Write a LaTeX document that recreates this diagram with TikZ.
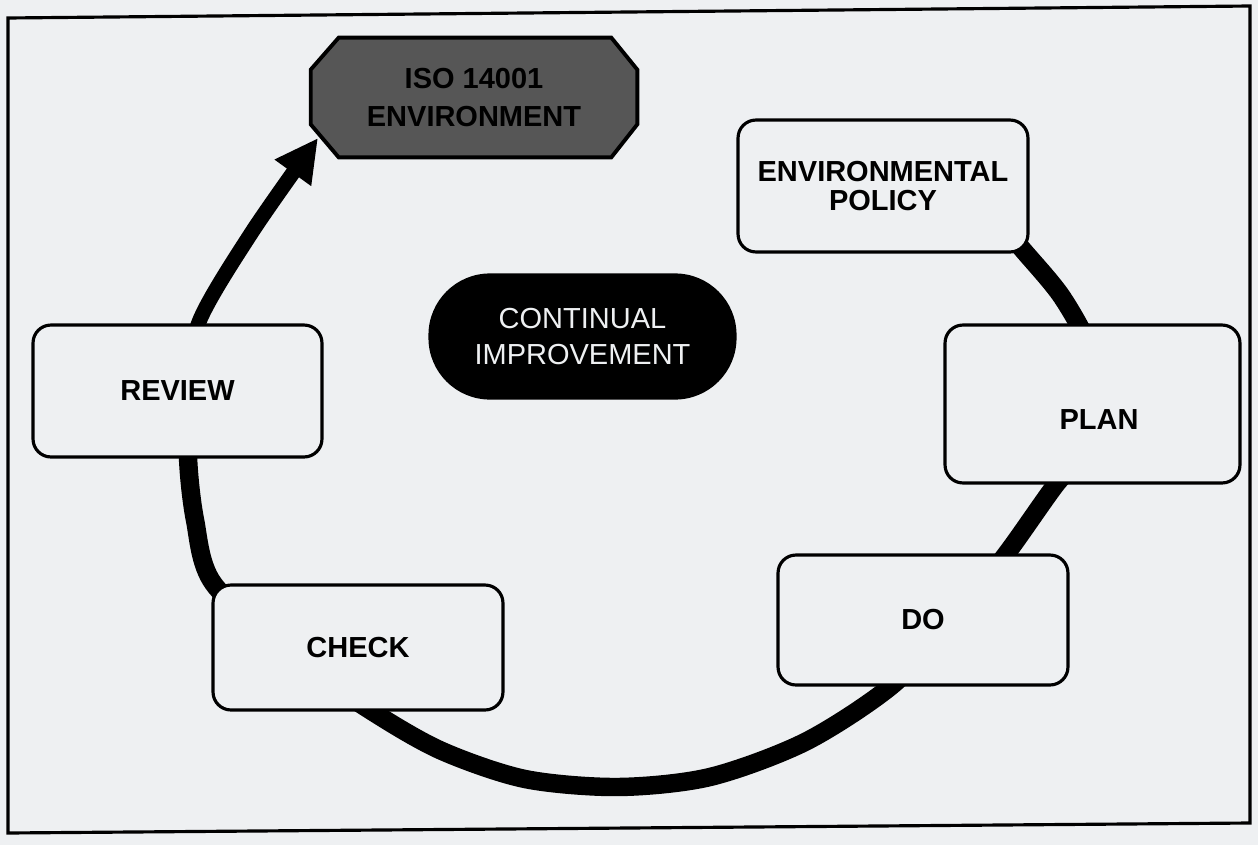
\documentclass[tikz,border=0pt]{standalone}
\usepackage{fontspec}
\setmainfont{Liberation Sans}
\usetikzlibrary{calc,arrows.meta}
\pgfdeclarelayer{bg}
\pgfdeclarelayer{ringlayer}
\pgfsetlayers{bg,ringlayer,main}
\definecolor{paper}{HTML}{EEF0F2}
\definecolor{isogray}{HTML}{565656}
\begin{document}
\begin{tikzpicture}[x=0.02cm,y=-0.02cm,
  stepbox/.style={draw=black, line width=1.8pt, fill=paper, rounded corners=0.36cm,
    font=\fontsize{16.5}{16}\selectfont\bfseries, align=center, inner sep=0pt},
  pill/.style={draw=black, line width=1.8pt, fill=black, rounded corners=1.2cm,
    text=paper, font=\fontsize{16.5}{21}\selectfont, align=center, inner sep=0pt},
  isobox/.style={inner sep=0pt, font=\fontsize{16.5}{22}\selectfont\bfseries, align=center},
  ringline/.style={line width=10.5pt, draw=black},
  arrowline/.style={line width=8.5pt, draw=black, -{Triangle[length=0.86cm, width=0.84cm]}},
  frameline/.style={line width=1.8pt, draw=black}
]
\useasboundingbox (0,0) rectangle (1258,845);
\begin{pgfonlayer}{bg}
  \fill[paper] (0,0) rectangle (1258,845);
\end{pgfonlayer}

% frame
\coordinate (f1) at (8,18);
\coordinate (f2) at (1250,6);
\coordinate (f3) at (1250,823);
\coordinate (f4) at (8,833);
\draw[frameline] (f1) -- (f2) -- (f3) -- (f4) -- cycle;

% ISO octagon
\node[isobox, minimum width=6.52cm, minimum height=2.38cm] (iso) at (474,97.5) {};
\draw[line width=2.2pt, fill=isogray]
  ($(iso.north west)+(28,0)$) -- ($(iso.north east)+(-26,0)$) --
  ($(iso.north east)+(0,32)$) -- ($(iso.south east)+(0,-33)$) --
  ($(iso.south east)+(-26,0)$) -- ($(iso.south west)+(28,0)$) --
  ($(iso.south west)+(0,-33)$) -- ($(iso.north west)+(0,32)$) -- cycle;
\node[isobox] (isoT) at (iso.center) {ISO 14001\\ENVIRONMENT};

% boxes
\node[stepbox, minimum width=5.8cm, minimum height=2.64cm] (policy) at (883,186) {ENVIRONMENTAL\\POLICY};
\node[stepbox, minimum width=5.9cm, minimum height=3.16cm] (plan) at (1092.5,404) {};
\node[font=\fontsize{16.5}{16}\selectfont\bfseries, inner sep=0pt] (planT) at (1099,420) {PLAN};
\node[stepbox, minimum width=5.8cm, minimum height=2.6cm] (do) at (923,620) {DO};
\node[stepbox, minimum width=5.8cm, minimum height=2.5cm] (check) at (358,647.5) {CHECK};
\node[stepbox, minimum width=5.78cm, minimum height=2.64cm] (review) at (177.5,391) {REVIEW};
\node[pill, minimum width=6.1cm, minimum height=2.46cm] (continual) at (582.5,336.5) {CONTINUAL\\IMPROVEMENT};

% ring waypoints
\coordinate (w0) at (990,212);
\coordinate (w1) at (1023,250);
\coordinate (w2) at (1062,297);
\coordinate (w3) at (1092,353);
\coordinate (w4) at (1104,415);
\coordinate (w5) at (1086,453);
\coordinate (w6) at (1057,483);
\coordinate (w7) at (1007,553);
\coordinate (w8) at (950,625);
\coordinate (w9) at (890,687);
\coordinate (w10) at (805,742);
\coordinate (w11) at (710,777);
\coordinate (w12) at (618,787);
\coordinate (w13) at (525,779);
\coordinate (w14) at (442,751);
\coordinate (w15) at (373,712);
\coordinate (w16) at (290,655);
\coordinate (w17) at (213,583);
\coordinate (w18) at (195,520);
\coordinate (w19) at (188,457);
\coordinate (w20) at (190,390);
\coordinate (w21) at (199,322);
\coordinate (w22) at (252,232);
\coordinate (tip) at (318,138);

\begin{pgfonlayer}{ringlayer}
\draw[ringline]
  plot[smooth, tension=0.5] coordinates {(w0) (w1) (w2) (w3) (w4) (w5) (w6) (w7) (w8) (w9) (w10) (w11) (w12) (w13) (w14) (w15) (w16) (w17) (w18) (w19) (w20)};
\draw[arrowline]
  plot[smooth, tension=0.5] coordinates {(w19) (w20) (w21) (w22) (tip)};
\end{pgfonlayer}
\end{tikzpicture}
\end{document}
